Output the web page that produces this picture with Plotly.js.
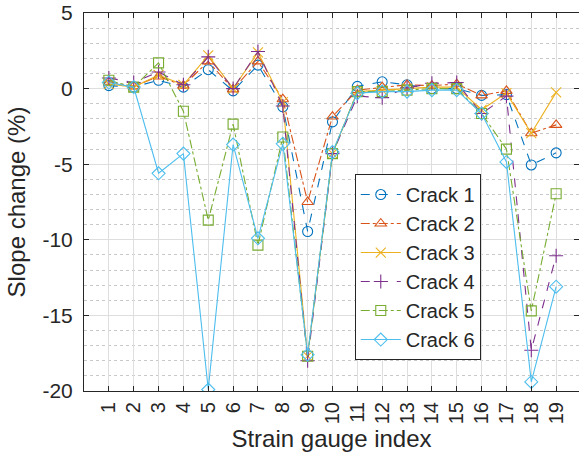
<!DOCTYPE html>
<html>
<head>
<meta charset="utf-8">
<script src="https://cdn.plot.ly/plotly-3.0.1.min.js"></script>
<style>
  html, body { margin: 0; padding: 0; background: #fff; overflow: hidden; }
  #chart { width: 579px; height: 461px; }
</style>
</head>
<body>
<div id="chart"></div>
<script>
// Strain gauge positions along the beam
const gauges = [1, 2, 3, 4, 5, 6, 7, 8, 9, 10, 11, 12, 13, 14, 15, 16, 17, 18, 19];
const gaugeLabels = gauges.map(String);

// Y axis ticks (plain hyphen minus in the labels)
const yTicks = [5, 0, -5, -10, -15, -20];
const yTickLabels = ['5', '0', '-5', '-10', '-15', '-20'];

// Slope change (%) at each gauge, one array per crack scenario
const crack1 = [0.2, 0.1, 0.55, 0.1, 1.25, -0.15, 1.55, -1.2, -9.45, -2.2, 0.15, 0.45, 0.25, 0.0, 0.0, -0.45, -0.4, -5.05, -4.25];
const crack2 = [0.45, 0.15, 0.8, 0.2, 1.8, -0.05, 1.8, -0.7, -7.5, -1.85, -0.1, 0.1, 0.25, 0.2, 0.3, -0.45, -0.15, -2.95, -2.4];
const crack3 = [0.3, 0.1, 0.9, 0.25, 2.2, 0.0, 2.4, -0.9, -17.7, -4.3, -0.2, -0.1, 0.0, 0.1, 0.1, -1.4, -0.3, -2.95, -0.25];
const crack4 = [0.7, 0.4, 1.1, 0.25, 2.1, 0.0, 2.45, -1.15, -18.0, -4.3, -0.5, -0.6, 0.05, 0.35, 0.4, -1.65, -0.5, -17.3, -11.05];
const crack5 = [0.55, 0.1, 1.7, -1.5, -8.7, -2.35, -10.35, -3.2, -17.7, -4.3, -0.2, -0.2, -0.1, 0.0, 0.0, -1.65, -4.0, -14.7, -6.95];
const crack6 = [0.4, 0.1, -5.6, -4.3, -19.9, -3.7, -9.9, -3.65, -17.6, -4.2, -0.3, -0.2, -0.2, -0.1, -0.1, -1.65, -4.85, -19.4, -13.1];

const seriesNames = ['Crack 1', 'Crack 2', 'Crack 3', 'Crack 4', 'Crack 5', 'Crack 6'];
const seriesValues = [crack1, crack2, crack3, crack4, crack5, crack6];
const seriesColors = ['#0072BD', '#D95319', '#EDB120', '#7E2F8E', '#77AC30', '#4DBEEE'];
const seriesDash = ['dash', 'dashdot', 'solid', 'dash', 'dashdot', 'solid'];
const seriesSymbols = ['circle-open', 'triangle-up-open', 'x-thin-open', 'cross-thin-open', 'square-open', 'diamond-open'];

const traces = seriesNames.map((name, i) => ({
  type: 'scatter',
  mode: 'lines+markers',
  name: name,
  x: gauges,
  y: seriesValues[i],
  line: { color: seriesColors[i], width: 1.1, dash: seriesDash[i] },
  marker: {
    symbol: seriesSymbols[i],
    size: 10,
    color: seriesColors[i],
    line: { color: seriesColors[i], width: 1.1 }
  }
}));

const textColor = '#262626';
const fontFamily = '"Liberation Sans", Arial, Helvetica, sans-serif';

const layout = {
  width: 579,
  height: 461,
  margin: { l: 84, r: 0, t: 13, b: 70 },
  paper_bgcolor: '#ffffff',
  plot_bgcolor: '#ffffff',
  font: { family: fontFamily, color: textColor, size: 20 },
  showlegend: true,
  legend: {
    x: 0.547, y: 0.574, xanchor: 'left', yanchor: 'top',
    bgcolor: '#ffffff',
    bordercolor: textColor,
    borderwidth: 1,
    font: { family: fontFamily, size: 20, color: textColor },
    tracegroupgap: 0,
    itemwidth: 40
  },
  xaxis: {
    range: [0, 19.92],
    tickmode: 'array',
    tickvals: gauges,
    ticktext: gaugeLabels,
    tickangle: -90,
    ticks: 'inside',
    ticklen: 5,
    tickcolor: textColor,
    showline: true,
    linecolor: textColor,
    linewidth: 1,
    mirror: 'ticks',
    showgrid: true,
    gridcolor: '#dedede',
    gridwidth: 1,
    zeroline: false,
    ticklabelstandoff: 2,
    tickfont: { size: 20, color: textColor },
    title: { text: 'Strain gauge index', font: { size: 24, color: textColor }, standoff: 6 }
  },
  yaxis: {
    range: [-20, 5],
    tickmode: 'array',
    tickvals: yTicks,
    ticktext: yTickLabels,
    ticks: 'inside',
    ticklen: 5,
    tickcolor: textColor,
    showline: true,
    linecolor: textColor,
    linewidth: 1,
    mirror: 'ticks',
    showgrid: true,
    gridcolor: '#dedede',
    gridwidth: 1,
    zeroline: false,
    ticklabelstandoff: 6,
    tickfont: { size: 21, color: textColor },
    minor: { tickmode: 'linear', tick0: 0, dtick: 1, showgrid: true, gridcolor: '#c8c8c8', griddash: 'dot', gridwidth: 1, ticks: '' },
    title: { text: 'Slope change (%)', font: { size: 24, color: textColor }, standoff: 10 }
  }
};

Plotly.newPlot('chart', traces, layout, { displayModeBar: false, staticPlot: true });
</script>
</body>
</html>
